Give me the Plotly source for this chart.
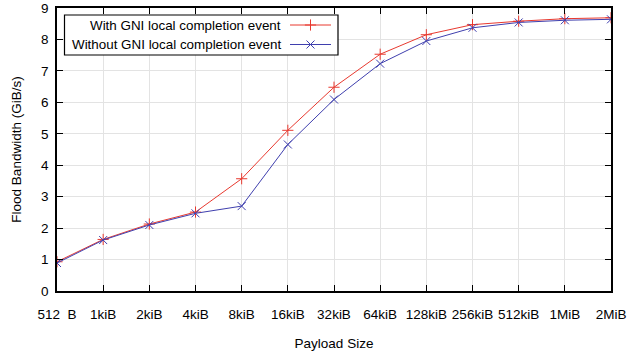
import plotly.graph_objects as go

# Payload sizes (categorical, log2 steps)
payload_labels = ["512\u00a0\u00a0B", "1kiB", "2kiB", "4kiB", "8kiB", "16kiB", "32kiB",
                  "64kiB", "128kiB", "256kiB", "512kiB", "1MiB", "2MiB"]

# Flood bandwidth in GiB/s
with_event = [0.93, 1.64, 2.13, 2.51, 3.57, 5.11, 6.48, 7.53, 8.15, 8.47, 8.58, 8.66, 8.69]
without_event = [0.89, 1.62, 2.10, 2.47, 2.70, 4.66, 6.09, 7.23, 7.95, 8.37, 8.54, 8.61, 8.64]

series_names = ["With GNI local completion event", "Without GNI local completion event"]

RED = "#e8392f"
BLUE = "#3f3fae"
FONT = "Liberation Sans, Arial, sans-serif"

# plot area in pixels
L, R, T, B = 57, 611, 8, 291
NX = len(payload_labels) - 1
YMAX = 9


def px_x(p):
    """pixel column -> category-axis coordinate"""
    return (p - L) / (R - L) * NX


def px_y(p):
    """pixel row -> value-axis coordinate"""
    return (B - p) / (B - T) * YMAX


fig = go.Figure()
fig.add_trace(go.Scatter(
    x=payload_labels, y=with_event, mode="lines+markers", name=series_names[0],
    line=dict(color=RED, width=1),
    marker=dict(symbol="cross-thin", size=8, line=dict(color=RED, width=1)),
    showlegend=False))
fig.add_trace(go.Scatter(
    x=payload_labels, y=without_event, mode="lines+markers", name=series_names[1],
    line=dict(color=BLUE, width=1),
    marker=dict(symbol="x-thin", size=8, line=dict(color=BLUE, width=1)),
    showlegend=False))

# key: box, text, line samples and markers
key_rows = [(25, RED, "cross-thin", series_names[0]), (44.5, BLUE, "x-thin", series_names[1])]
fig.add_shape(type="rect", xref="x", yref="y", x0=px_x(64.5), x1=px_x(338),
              y0=px_y(15), y1=px_y(55),
              fillcolor="white", line=dict(color="black", width=1.2), layer="between")
for ky, col, sym, name in key_rows:
    fig.add_shape(type="line", xref="x", yref="y", x0=px_x(290), x1=px_x(331),
                  y0=px_y(ky), y1=px_y(ky),
                  line=dict(color=col, width=1), layer="between")
    fig.add_trace(go.Scatter(
        x=[px_x(310.5)], y=[px_y(ky)], xaxis="x2", mode="markers", showlegend=False,
        hoverinfo="skip",
        marker=dict(symbol=sym, size=8, color=col, line=dict(color=col, width=1))))
    fig.add_annotation(x=px_x(283), y=px_y(ky), xref="x", yref="y", text=name,
                       showarrow=False, xanchor="right", yanchor="middle",
                       font=dict(family=FONT, size=13.4, color="black"))

fig.update_layout(
    width=627, height=354,
    margin=dict(l=L, r=627 - R, t=T, b=354 - B),
    paper_bgcolor="white", plot_bgcolor="white",
    font=dict(family=FONT, size=13.5, color="black"),
    xaxis=dict(
        type="category", range=[0, NX], automargin=False,
        showgrid=True, gridcolor="#e3e3e3", gridwidth=1,
        ticks="inside", ticklen=6, tickwidth=1.2, tickcolor="black",
        showline=True, linecolor="black", linewidth=1.5, mirror="ticks",
        tickfont=dict(size=13.5), ticklabelstandoff=10,
        title=dict(text="Payload Size", font=dict(size=13.5), standoff=18),
    ),
    yaxis=dict(
        range=[0, YMAX], dtick=1, tick0=0, automargin=False,
        showgrid=True, gridcolor="#e3e3e3", gridwidth=1, zeroline=False,
        ticks="inside", ticklen=6, tickwidth=1.2, tickcolor="black",
        showline=True, linecolor="black", linewidth=1.5, mirror="ticks",
        tickfont=dict(size=13.5), ticklabelstandoff=4,
        title=dict(text="Flood Bandwidth (GiB/s)", font=dict(size=13.5), standoff=16),
    ),
    # numeric overlay on the same span, for the key markers
    xaxis2=dict(overlaying="x", range=[0, NX], visible=False, fixedrange=True),
)

fig.write_html("out.html")
